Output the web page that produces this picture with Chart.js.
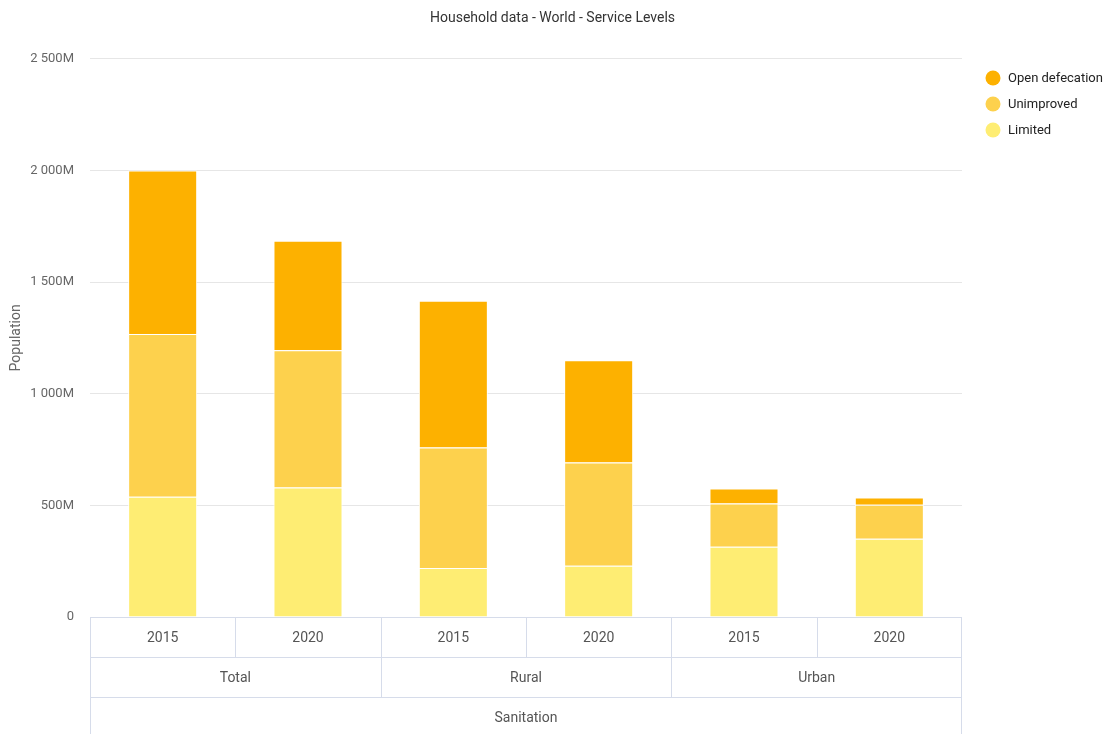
<!DOCTYPE html>
<html>
<head>
<meta charset="utf-8">
<title>Household data - World - Service Levels</title>
<script src="https://cdn.jsdelivr.net/npm/chart.js@4/dist/chart.umd.min.js"></script>
<style>
  html, body { margin: 0; padding: 0; background: #fff; }
  #wrap { width: 1105px; height: 734px; }
</style>
</head>
<body>
<div id="wrap"><canvas id="serviceChart"></canvas></div>
<script>
// bar categories (year inside each area)
var years = ["2015", "2020", "2015", "2020", "2015", "2020"];
var areas = ["Total", "Rural", "Urban"];
var serviceType = "Sanitation";

// population in millions
var limited = [539, 580, 220, 229, 315, 350];
var unimproved = [728, 615, 539, 463, 193, 153];
var openDefecation = [733, 490, 657, 458, 67, 32];

var yTicks = [0, 500, 1000, 1500, 2000, 2500];

var fontFamily = "Roboto, 'DejaVu Sans Condensed', sans-serif";
var gridColor = "#d6dcea";

function formatMillions(v) {
  if (v === 0) return "0";
  var s = String(v);
  if (v >= 1000) s = s.slice(0, s.length - 3) + " " + s.slice(-3);
  return s + "M";
}

// draws the three-row category table under the bars
var categoryTable = {
  id: "categoryTable",
  afterDraw: function(chart) {
    var ctx = chart.ctx;
    var x = chart.scales.x;
    var area = chart.chartArea;
    var rowH = 40;
    var top = area.bottom;
    var n = years.length;
    var step = (area.right - area.left) / n;

    ctx.save();
    ctx.strokeStyle = gridColor;
    ctx.lineWidth = 1;
    ctx.fillStyle = "#555";
    ctx.font = "14px " + fontFamily;
    ctx.textAlign = "center";
    ctx.textBaseline = "middle";

    ctx.beginPath();
    ctx.moveTo(area.left + 0.5, top);
    ctx.lineTo(area.left + 0.5, chart.height);
    ctx.moveTo(area.right - 0.5, top);
    ctx.lineTo(area.right - 0.5, chart.height);
    for (var r = 0; r < 3; r++) {
      var yy = Math.round(top + r * rowH) + 0.5;
      ctx.moveTo(area.left, yy);
      ctx.lineTo(area.right, yy);
    }
    for (var i = 1; i < n; i++) {
      var xx = Math.round(area.left + i * step) + 0.5;
      ctx.moveTo(xx, top);
      ctx.lineTo(xx, top + rowH);
    }
    for (var j = 1; j < areas.length; j++) {
      var xa = Math.round(area.left + j * 2 * step) + 0.5;
      ctx.moveTo(xa, top + rowH);
      ctx.lineTo(xa, top + 2 * rowH);
    }
    ctx.stroke();

    years.forEach(function(label, k) {
      ctx.fillText(label, x.getPixelForValue(k), top + rowH / 2 + 1);
    });
    areas.forEach(function(label, k) {
      var cx = (x.getPixelForValue(k * 2) + x.getPixelForValue(k * 2 + 1)) / 2;
      ctx.fillText(label, cx, top + rowH * 1.5 + 1);
    });
    ctx.fillText(serviceType, (area.left + area.right) / 2, top + rowH * 2.5 + 1);
    ctx.restore();
  }
};

// legend at the top right, top series first
var sideLegend = {
  id: "sideLegend",
  afterDraw: function(chart) {
    var ctx = chart.ctx;
    var sets = chart.data.datasets.slice().reverse();
    ctx.save();
    ctx.font = "13px " + fontFamily;
    ctx.textAlign = "left";
    ctx.textBaseline = "middle";
    sets.forEach(function(ds, k) {
      var cy = 78 + k * 26;
      ctx.fillStyle = ds.backgroundColor;
      ctx.beginPath();
      ctx.arc(993, cy, 7.5, 0, Math.PI * 2);
      ctx.fill();
      ctx.fillStyle = "#222";
      ctx.fillText(ds.label, 1008, cy + 1);
    });
    ctx.restore();
  }
};

var ctx = document.getElementById("serviceChart").getContext("2d");
var serviceChart = new Chart(ctx, {
  type: "bar",
  data: {
    labels: years,
    datasets: [{
      label: "Limited",
      data: limited,
      backgroundColor: "#feed73",
      borderColor: "#ffffff",
      borderWidth: 1
    }, {
      label: "Unimproved",
      data: unimproved,
      backgroundColor: "#fdd14d",
      borderColor: "#ffffff",
      borderWidth: 1
    }, {
      label: "Open defecation",
      data: openDefecation,
      backgroundColor: "#fdb100",
      borderColor: "#ffffff",
      borderWidth: 1
    }]
  },
  options: {
    responsive: true,
    maintainAspectRatio: false,
    animation: false,
    layout: {
      padding: { top: 0, bottom: 109, left: 0, right: 0 }
    },
    datasets: {
      bar: { categoryPercentage: 1, barPercentage: 0.475 }
    },
    plugins: {
      title: {
        display: true,
        text: "Household data - World - Service Levels",
        color: "#333",
        font: { family: fontFamily, size: 14, weight: "normal" },
        padding: { top: 10, bottom: 32 }
      },
      legend: { display: false },
      tooltip: { enabled: false }
    },
    scales: {
      x: {
        stacked: true,
        ticks: { display: false },
        grid: { display: false },
        border: { display: false }
      },
      y: {
        stacked: true,
        min: 0,
        max: 2500,
        afterBuildTicks: function(scale) {
          scale.ticks = yTicks.map(function(v) { return { value: v }; });
        },
        afterFit: function(scale) {
          scale.width = 90;
        },
        ticks: {
          color: "#666",
          padding: 16,
          font: { family: fontFamily, size: 13 },
          callback: function(v) { return formatMillions(v); }
        },
        grid: { color: "#e6e6e6", drawTicks: false },
        border: { display: false },
        title: {
          display: true,
          text: "Population",
          color: "#666",
          font: { family: fontFamily, size: 14 },
          padding: { top: 8, bottom: 0 }
        }
      },
      // empty right-hand axis that keeps room for the legend
      legendSpace: {
        axis: "y",
        position: "right",
        display: true,
        ticks: { display: false },
        grid: { display: false },
        border: { display: false },
        afterFit: function(scale) {
          scale.width = 143;
        }
      }
    }
  },
  plugins: [categoryTable, sideLegend]
});
</script>
</body>
</html>
